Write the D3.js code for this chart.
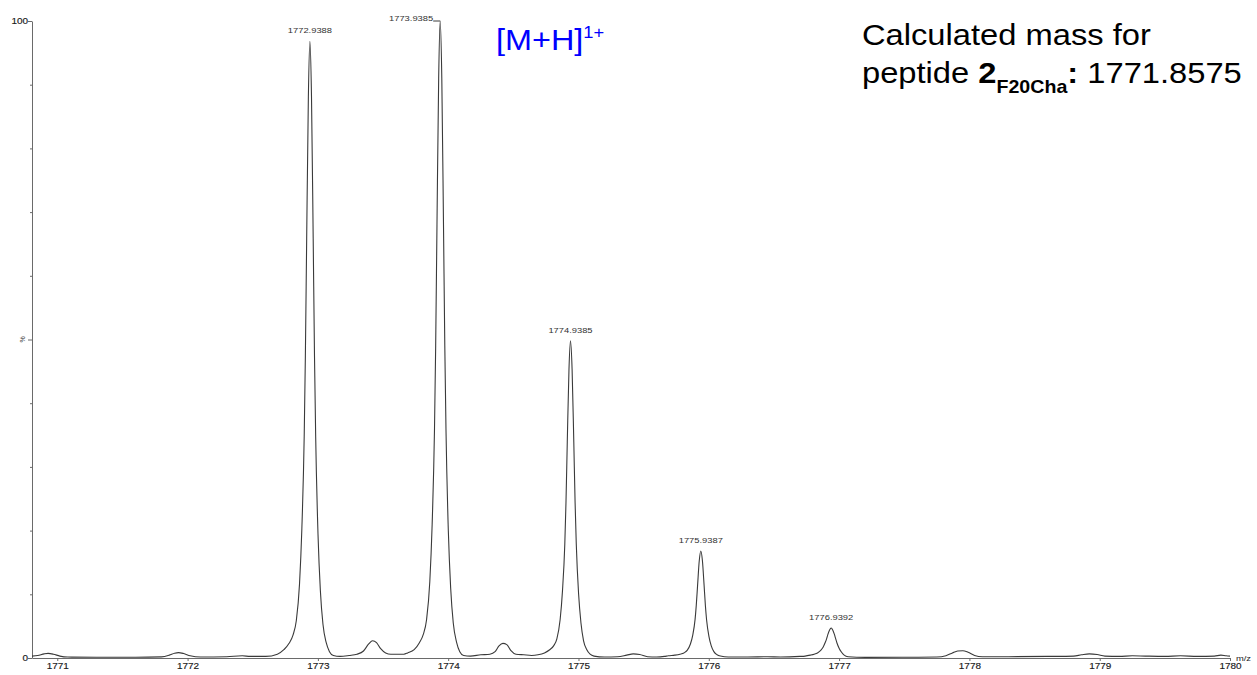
<!DOCTYPE html>
<html>
<head>
<meta charset="utf-8">
<script src="https://cdn.jsdelivr.net/npm/d3@7"></script>
<style>
  html, body { margin: 0; padding: 0; background: #fff; }
  svg { display: block; }
</style>
</head>
<body>
<svg id="chart" width="1257" height="675"></svg>
<script>
// Axis ticks
const xTicks = [1771, 1772, 1773, 1774, 1775, 1776, 1777, 1778, 1779, 1780];
const yTicks = [0, 10, 20, 30, 40, 50, 60, 70, 80, 90, 100];

// Centroided isotope peaks ([M+H]1+ cluster)
const peakMz = [1772.9388, 1773.9385, 1774.9385, 1775.9387, 1776.9392];
const peakIntensity = [96.8, 100, 49.8, 16.8, 4.7];
const peakLabels = ["1772.9388", "1773.9385", "1774.9385", "1775.9387", "1776.9392"];

// Profile spectrum: [m/z, relative intensity %]
const profile = [
  [1770.806,0.3],[1770.85,0.4],[1770.90,0.65],[1770.93,0.72],[1770.97,0.6],[1771.02,0.3],[1771.08,0.15],
  [1771.3,0.12],[1771.6,0.12],[1771.80,0.18],[1771.86,0.45],[1771.90,0.75],[1771.93,0.85],[1771.97,0.7],
  [1772.02,0.35],[1772.1,0.15],[1772.3,0.2],[1772.42,0.35],[1772.48,0.25],[1772.6,0.25],
  [1772.689,0.6],[1772.739,1.3],[1772.779,2.3],[1772.809,3.6],[1772.834,5.8],[1772.859,11.6],[1772.877,20.3],
  [1772.895,34.8],[1772.904,47.4],[1772.914,65.8],[1772.927,88.1],[1772.9388,96.8],[1772.951,88.1],
  [1772.964,65.8],[1772.974,47.4],[1772.983,34.8],[1773.001,19.4],[1773.019,10.6],[1773.039,5.3],
  [1773.064,2.4],[1773.089,1.0],[1773.119,0.4],
  [1773.17,0.25],[1773.24,0.4],[1773.30,0.6],[1773.35,1.1],[1773.39,2.2],[1773.42,2.7],[1773.45,2.4],
  [1773.48,1.5],[1773.52,0.8],[1773.56,0.6],[1773.62,0.6],[1773.66,0.6],
  [1773.689,0.8],[1773.739,1.3],[1773.779,2.4],[1773.809,3.7],[1773.834,6.0],[1773.859,12],[1773.877,21],
  [1773.895,36],[1773.904,49],[1773.914,68],[1773.927,91],[1773.9385,100],[1773.951,91],[1773.964,68],
  [1773.974,49],[1773.983,36],[1774.001,20],[1774.019,11],[1774.039,5.5],[1774.064,2.5],[1774.089,1.0],
  [1774.119,0.4],
  [1774.17,0.3],[1774.25,0.5],[1774.32,0.6],[1774.36,1.0],[1774.39,1.9],[1774.42,2.3],[1774.45,2.1],
  [1774.48,1.2],[1774.52,0.6],[1774.58,0.5],[1774.64,0.4],
  [1774.689,0.5],[1774.739,0.8],[1774.779,1.3],[1774.809,1.9],[1774.834,3.0],[1774.859,6.0],[1774.877,10.5],
  [1774.895,17.9],[1774.904,24.4],[1774.914,33.9],[1774.927,45.3],[1774.9385,49.8],[1774.951,45.3],
  [1774.964,33.9],[1774.974,24.4],[1774.983,17.9],[1775.001,10.0],[1775.019,5.5],[1775.039,2.7],
  [1775.064,1.3],[1775.089,0.6],[1775.119,0.3],
  [1775.2,0.15],[1775.3,0.2],[1775.37,0.45],[1775.42,0.65],[1775.47,0.55],[1775.53,0.2],[1775.6,0.15],
  [1775.66,0.25],
  [1775.689,0.35],[1775.739,0.45],[1775.779,0.6],[1775.809,0.8],[1775.834,1.2],[1775.859,2.2],[1775.877,3.6],
  [1775.895,6.1],[1775.904,8.3],[1775.914,11.4],[1775.927,15.3],[1775.9387,16.8],[1775.951,15.3],
  [1775.964,11.4],[1775.974,8.2],[1775.983,6.0],[1776.001,3.4],[1776.019,1.9],[1776.039,1.0],
  [1776.064,0.5],[1776.089,0.3],
  [1776.15,0.15],[1776.3,0.15],[1776.45,0.2],[1776.55,0.15],[1776.7,0.25],
  [1776.739,0.3],[1776.779,0.45],[1776.809,0.6],[1776.834,0.8],[1776.859,1.2],[1776.877,1.7],[1776.895,2.5],
  [1776.904,3.0],[1776.914,3.7],[1776.927,4.4],[1776.9392,4.7],[1776.951,4.4],[1776.964,3.7],[1776.974,3.0],
  [1776.983,2.4],[1777.001,1.5],[1777.019,0.9],[1777.039,0.45],[1777.069,0.2],
  [1777.2,0.1],[1777.5,0.12],[1777.75,0.15],[1777.82,0.35],[1777.87,0.8],[1777.91,1.1],[1777.95,1.15],
  [1777.99,0.9],[1778.04,0.4],[1778.1,0.2],[1778.3,0.2],[1778.6,0.25],[1778.8,0.3],[1778.86,0.5],
  [1778.92,0.65],[1778.98,0.55],[1779.04,0.3],[1779.15,0.25],[1779.25,0.35],[1779.35,0.3],[1779.5,0.25],
  [1779.62,0.35],[1779.75,0.25],[1779.88,0.3],[1779.93,0.45],[1779.97,0.35],[1780.0,0.3]
];

const FONT = "'Liberation Sans', Arial, Helvetica, sans-serif";
const SX = 1.17;            // horizontal stretch of the small axis/peak text
const SX_BIG = 1.09;        // horizontal stretch of the large annotations
const axisColor = "#6a6a6a";
const textColor = "#333";

const svg = d3.select("#chart");

const x = d3.scaleLinear().domain([1770.806, 1780]).range([32, 1230]);
const y = d3.scaleLinear().domain([0, 100]).range([658, 21]);

// ---- x axis ----
const gx = svg.append("g")
  .attr("transform", `translate(0,${y(0)})`)
  .call(d3.axisBottom(x).tickValues(xTicks).tickFormat(d3.format("d")).tickSize(3).tickSizeOuter(0));
gx.select(".domain").attr("stroke", axisColor);
gx.selectAll(".tick line").attr("stroke", axisColor);
gx.selectAll(".tick text")
  .attr("font-family", FONT).attr("font-size", 8.5).attr("fill", "#1a1a1a")
  .attr("stroke", "#1a1a1a").attr("stroke-width", 0.15)
  .attr("y", 5).attr("dy", "0.71em")
  .attr("transform", `scale(${SX},1)`);

// ---- y axis ----
const gy = svg.append("g")
  .attr("transform", `translate(${x.range()[0]},0)`)
  .call(d3.axisLeft(y).tickValues(yTicks)
    .tickFormat(d => (d === 0 || d === 100) ? String(d) : "")
    .tickSize(3).tickSizeOuter(0));
gy.select(".domain").attr("stroke", axisColor);
gy.selectAll(".tick line")
  .attr("stroke", axisColor)
  .attr("x2", d => (d === 0 || d === 50 || d === 100) ? -4 : -2);
gy.selectAll(".tick text")
  .attr("font-family", FONT).attr("font-size", 8.5).attr("fill", "#1a1a1a")
  .attr("stroke", "#1a1a1a").attr("stroke-width", 0.15)
  .attr("dy", "0.35em")
  .attr("transform", `scale(${SX},1)`)
  .attr("x", -4 / SX);

// "%" axis label, rotated
svg.append("text")
  .attr("transform", `translate(${x.range()[0] - 7},${y(50)}) rotate(-90)`)
  .attr("text-anchor", "middle")
  .attr("font-family", FONT).attr("font-size", 7).attr("fill", "#444")
  .text("%");

// "m/z" axis label
svg.append("g")
  .attr("transform", `translate(${x.range()[1] + 6},${y(0) + 3}) scale(${SX},1)`)
  .append("text")
  .attr("font-family", FONT).attr("font-size", 8).attr("fill", "#222")
  .text("m/z");

// ---- spectrum trace ----
const line = d3.line()
  .x(d => x(d[0]))
  .y(d => y(d[1]))
  .curve(d3.curveMonotoneX);

svg.append("path")
  .datum(profile)
  .attr("fill", "none")
  .attr("stroke", "#3a3a3a")
  .attr("stroke-width", 1.1)
  .attr("stroke-linejoin", "round")
  .attr("d", line);

// ---- peak labels ----
const peaks = peakMz.map((m, i) => ({ mz: m, val: peakIntensity[i], label: peakLabels[i] }));

peaks.forEach(p => {
  const px = x(p.mz), py = y(p.val);
  if (p.val >= 99.5) {
    // label at the top edge: set to the left with a short leader
    svg.append("line")
      .attr("x1", px - 7).attr("x2", px)
      .attr("y1", py).attr("y2", py)
      .attr("stroke", "#3a3a3a").attr("stroke-width", 1);
    svg.append("g")
      .attr("transform", `translate(${px - 7},${py - 0.5}) scale(${SX},1)`)
      .append("text")
      .attr("text-anchor", "end")
      .attr("font-family", FONT).attr("font-size", 8).attr("fill", textColor)
      .text(p.label);
  } else {
    svg.append("g")
      .attr("transform", `translate(${px},${py - 8}) scale(${SX},1)`)
      .append("text")
      .attr("text-anchor", "middle")
      .attr("font-family", FONT).attr("font-size", 8).attr("fill", textColor)
      .text(p.label);
  }
});

// ---- ion annotation ----
const ion = svg.append("g")
  .attr("transform", `translate(496,50) scale(1.08,1)`)
  .append("text")
  .attr("font-family", FONT).attr("font-size", 30).attr("fill", "#0000ff");
ion.append("tspan").text("[M+H]");
ion.append("tspan").attr("font-size", 17).attr("dy", -12).text("1+");

// ---- calculated mass note ----
const note = svg.append("g")
  .attr("transform", `translate(862,0) scale(${SX_BIG},1)`);
note.append("text")
  .attr("x", 0).attr("y", 45)
  .attr("font-family", FONT).attr("font-size", 30).attr("fill", "#000")
  .text("Calculated mass for");
const l2 = note.append("text")
  .attr("x", 0).attr("y", 83)
  .attr("font-family", FONT).attr("font-size", 30).attr("fill", "#000");
l2.append("tspan").text("peptide ");
l2.append("tspan").attr("font-weight", "bold").text("2");
l2.append("tspan").attr("font-weight", "bold").attr("font-size", 18).attr("dy", 10).text("F20Cha");
l2.append("tspan").attr("font-weight", "bold").attr("dy", -10).text(":");
l2.append("tspan").text(" 1771.8575");
</script>
</body>
</html>
